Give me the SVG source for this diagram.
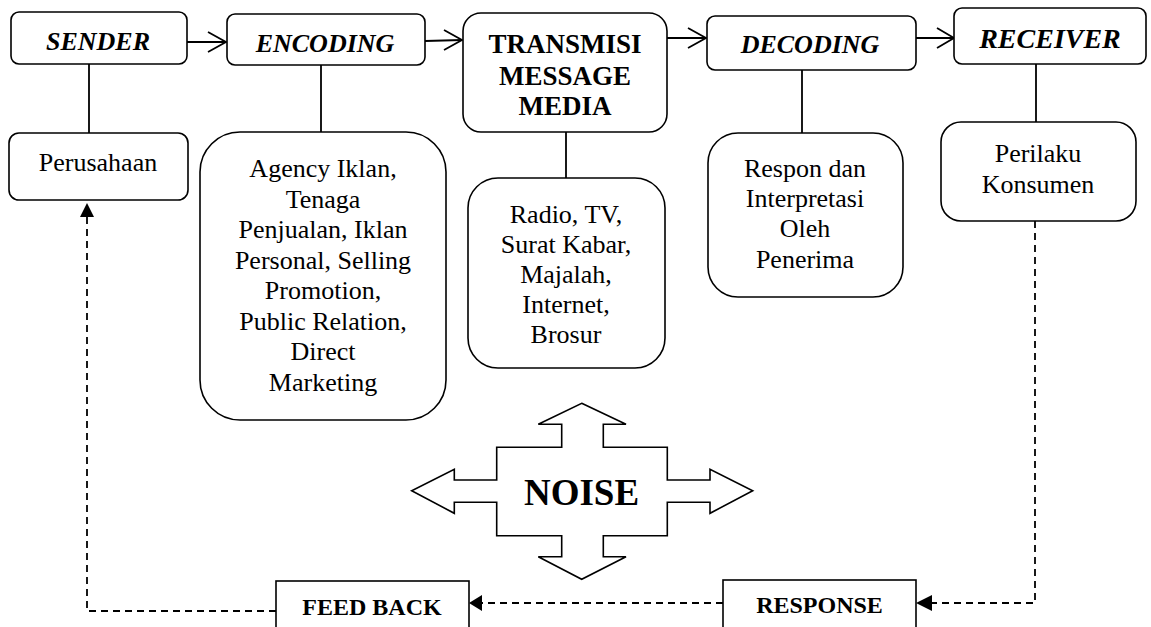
<svg xmlns="http://www.w3.org/2000/svg" width="1151" height="627" viewBox="0 0 1151 627">
  <style>
    .box { fill: #fff; stroke: #000; stroke-width: 1.6; }
    .link { fill: none; stroke: #000; stroke-width: 1.8; }
    .dash { fill: none; stroke: #000; stroke-width: 1.8; stroke-dasharray: 7 5; }
    .head { fill: none; stroke: #000; stroke-width: 1.8; }
    .tip { fill: #000; stroke: none; }
    text { font-family: 'Liberation Serif', serif; fill: #000; text-anchor: middle; }
    .stage { font-size: 26px; font-weight: bold; font-style: italic; }
    .media { font-size: 27px; font-weight: bold; }
    .body { font-size: 26px; }
    .label { font-size: 24px; font-weight: bold; }
    .noise { font-size: 37px; font-weight: bold; }
  </style>

  <!-- connectors -->
  <g id="connectors">
    <!-- main flow -->
    <line class="link" x1="187" y1="42" x2="226" y2="42"/>
    <polyline class="head" points="208,32 226,42 208,52"/>
    <line class="link" x1="425" y1="41" x2="462" y2="40"/>
    <polyline class="head" points="444,30 462,40 444,50"/>
    <line class="link" x1="667" y1="38" x2="706" y2="38"/>
    <polyline class="head" points="688,28 706,38 688,48"/>
    <line class="link" x1="916" y1="38" x2="954" y2="38"/>
    <polyline class="head" points="937,28 954,38 937,48"/>

    <!-- stage to detail -->
    <line class="link" x1="89" y1="64" x2="89" y2="133"/>
    <line class="link" x1="321" y1="65" x2="321" y2="132"/>
    <line class="link" x1="566" y1="132" x2="566" y2="178"/>
    <line class="link" x1="802" y1="70" x2="802" y2="133"/>
    <line class="link" x1="1036" y1="64" x2="1036" y2="122"/>

    <!-- feedback loop -->
    <polyline class="dash" points="1035,221 1035,603 932,603"/>
    <polygon class="tip" points="916,603 932,595 932,611"/>
    <line class="dash" x1="723" y1="603" x2="482" y2="603"/>
    <polygon class="tip" points="469,603 482,595 482,611"/>
    <polyline class="dash" points="276,611 87,611 87,217"/>
    <polygon class="tip" points="87,203 80,217 94,217"/>
  </g>

  <!-- top row -->
  <g id="sender">
    <rect class="box" x="11" y="12" width="176" height="52" rx="8"/>
    <text class="stage" x="98" y="50">SENDER</text>
  </g>
  <g id="encoding">
    <rect class="box" x="227" y="14" width="198" height="51" rx="8"/>
    <text class="stage" x="325" y="52">ENCODING</text>
  </g>
  <g id="transmisi">
    <rect class="box" x="463" y="13" width="204" height="119" rx="18"/>
    <text class="media" x="565" y="53">TRANSMISI</text>
    <text class="media" x="565" y="85">MESSAGE</text>
    <text class="media" x="565" y="115">MEDIA</text>
  </g>
  <g id="decoding">
    <rect class="box" x="707" y="16" width="209" height="54" rx="8"/>
    <text class="stage" x="810" y="53">DECODING</text>
  </g>
  <g id="receiver">
    <rect class="box" x="954" y="8" width="192" height="56" rx="8"/>
    <text class="stage" x="1050" y="48" style="font-size:28px">RECEIVER</text>
  </g>

  <!-- detail row -->
  <g id="perusahaan">
    <rect class="box" x="9" y="133" width="179" height="67" rx="10"/>
    <text class="body" x="98" y="171">Perusahaan</text>
  </g>
  <g id="encoding-detail">
    <rect class="box" x="200" y="132" width="246" height="288" rx="40"/>
    <text class="body" x="323" y="177">Agency Iklan,</text>
    <text class="body" x="323" y="207.5">Tenaga</text>
    <text class="body" x="323" y="238">Penjualan, Iklan</text>
    <text class="body" x="323" y="268.5">Personal, Selling</text>
    <text class="body" x="323" y="299">Promotion,</text>
    <text class="body" x="323" y="329.5">Public Relation,</text>
    <text class="body" x="323" y="360">Direct</text>
    <text class="body" x="323" y="390.5">Marketing</text>
  </g>
  <g id="media-detail">
    <rect class="box" x="468" y="178" width="197" height="190" rx="30"/>
    <text class="body" x="566" y="223">Radio, TV,</text>
    <text class="body" x="566" y="253">Surat Kabar,</text>
    <text class="body" x="566" y="283">Majalah,</text>
    <text class="body" x="566" y="313">Internet,</text>
    <text class="body" x="566" y="343">Brosur</text>
  </g>
  <g id="decoding-detail">
    <rect class="box" x="708" y="133" width="195" height="164" rx="30"/>
    <text class="body" x="805" y="177">Respon dan</text>
    <text class="body" x="805" y="207">Interpretasi</text>
    <text class="body" x="805" y="237">Oleh</text>
    <text class="body" x="805" y="268">Penerima</text>
  </g>
  <g id="receiver-detail">
    <rect class="box" x="941" y="122" width="195" height="99" rx="20"/>
    <text class="body" x="1038" y="162">Perilaku</text>
    <text class="body" x="1038" y="193">Konsumen</text>
  </g>

  <!-- noise: four-way arrow -->
  <g id="noise">
    <polygon class="box" stroke-width="1.8" points="581.7,403.3 626,424.3 603.3,424.3 603.3,447.3 667.3,447.3 667.3,480 710,480 710,469.3 752.7,490.7 710,513.3 710,502.3 667.3,502.3 667.3,535.7 603.3,535.7 603.3,556.7 626,556.7 581.7,579.3 538.3,556.7 561.7,556.7 561.7,535.7 496.7,535.7 496.7,502.3 454.3,502.3 454.3,513.3 411.7,490.7 454.3,469.3 454.3,480 496.7,480 496.7,447.3 561.7,447.3 561.7,424.3 538.3,424.3"/>
    <text class="noise" x="581.5" y="505">NOISE</text>
  </g>

  <!-- feedback boxes -->
  <g id="feedback">
    <rect class="box" x="276" y="581" width="193" height="60"/>
    <text class="label" x="372" y="615">FEED BACK</text>
  </g>
  <g id="response">
    <rect class="box" x="723" y="580" width="193" height="60"/>
    <text class="label" x="819.5" y="613">RESPONSE</text>
  </g>
</svg>
